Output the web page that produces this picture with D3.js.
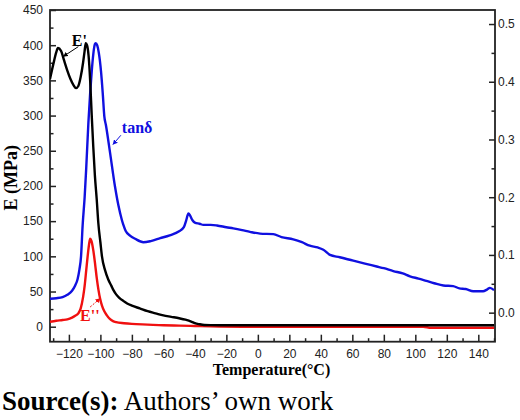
<!DOCTYPE html>
<html>
<head>
<meta charset="utf-8">
<script src="https://cdn.jsdelivr.net/npm/d3@7"></script>
<style>
  body { margin: 0; background: #fff; }
  .tick text { font-family: "Liberation Sans", Arial, sans-serif; font-size: 12px; fill: #222; }
  .tick line { stroke: #222; stroke-width: 1.5; }
  .serif { font-family: "Liberation Serif", "Times New Roman", serif; }
</style>
</head>
<body>
<svg id="chart"></svg>
<script>
// temperature (°C) / value pairs
const ePrimeT = [-132, -130, -128, -127, -125, -123, -121, -119, -117, -115.5, -114, -112.5, -111, -110, -109.3, -108.5, -107.5, -106.5, -105.5, -104.5, -103.5, -102.3, -101.3, -100, -99, -97, -95, -93, -91.7, -90, -88, -85, -83, -80, -75, -70, -65, -60, -55, -50, -46, -42, -40, -37, -34, -30, -20, 0, 50, 100, 150];
const ePrime = [352, 372, 390, 396, 392, 378, 364, 352, 343, 339, 342, 355, 375, 392, 403, 400, 385, 350, 300, 255, 215, 180, 147, 120, 100, 80, 67, 58, 52, 46, 41, 36, 33, 30, 26, 22, 19, 16, 14, 12, 10, 7, 5, 3.5, 2.5, 2.2, 2, 2, 2, 2, 2];

const eDoubleT = [-132, -128, -124, -121, -118, -116, -114, -112.5, -111, -110, -109, -108, -107.2, -106.5, -105.7, -104.4, -103.3, -102.3, -101.2, -100.2, -99, -97.5, -96, -94, -92, -90, -85, -80, -70, -60, -50, -40, -30, -10, 50, 105, 110, 150];
const eDouble = [7, 8.5, 9.5, 10.5, 13, 15.5, 19, 26, 42, 58, 80, 102, 117, 125, 122, 107, 88, 69, 52, 40, 30, 22, 16.5, 11, 8, 6.5, 5, 4, 3, 2, 1.5, 1, 0.5, 0, 0, 0, -1.5, -1.5];

const tanT = [-132, -128, -124, -121, -118, -116, -114.5, -113.3, -112.3, -111.3, -110, -109, -107.6, -106.5, -105.5, -104.5, -103.5, -103, -102, -101, -99.6, -98.5, -97.5, -96.5, -93.8, -90.7, -88.5, -86.4, -85.4, -84, -81, -78, -72.7, -68, -62, -56, -50, -47, -45.5, -44.1, -43, -41.5, -40, -37, -34.6, -30, -26, -20, -15.6, -10, -5, 1.4, 9.8, 15, 22.5, 28, 33, 38, 41.6, 45.8, 52, 60.6, 68, 75.5, 80, 86, 92, 96.6, 102, 107, 112, 117.8, 124, 128, 132, 136.8, 143, 145.5, 147.4, 150];
const tanDelta = [0.024, 0.025, 0.027, 0.031, 0.038, 0.047, 0.058, 0.075, 0.097, 0.15, 0.2, 0.25, 0.33, 0.38, 0.418, 0.448, 0.465, 0.467, 0.463, 0.45, 0.418, 0.38, 0.34, 0.325, 0.276, 0.218, 0.185, 0.161, 0.152, 0.142, 0.133, 0.128, 0.122, 0.124, 0.129, 0.134, 0.141, 0.148, 0.16, 0.172, 0.168, 0.16, 0.156, 0.154, 0.152, 0.152, 0.151, 0.148, 0.146, 0.143, 0.14, 0.137, 0.136, 0.131, 0.127, 0.122, 0.116, 0.113, 0.109, 0.1, 0.096, 0.09, 0.085, 0.08, 0.077, 0.072, 0.068, 0.063, 0.059, 0.055, 0.051, 0.047, 0.046, 0.042, 0.041, 0.037, 0.037, 0.04, 0.043, 0.039];

const xMajor = [-120, -100, -80, -60, -40, -20, 0, 20, 40, 60, 80, 100, 120, 140];
const yLeftMajor = [0, 50, 100, 150, 200, 250, 300, 350, 400, 450];
const yRightMajor = [0, 0.1, 0.2, 0.3, 0.4, 0.5];

const width = 520, height = 420;
const margin = { top: 10, right: 25, bottom: 78.3, left: 50 };
const plotW = width - margin.left - margin.right,
  plotH = height - margin.top - margin.bottom;

const svg = d3.select("#chart").attr("width", width).attr("height", height);

const x = d3.scaleLinear().domain([-132, 150.6]).range([margin.left, margin.left + plotW]);
const yL = d3.scaleLinear().domain([-21.3, 450]).range([margin.top + plotH, margin.top]);
const yR = d3.scaleLinear().domain([-0.0503, 0.5243]).range([margin.top + plotH, margin.top]);

// minor ticks first, then majors with labels
const xMinor = d3.range(-130, 151, 10).filter(v => !xMajor.includes(v));
const yLeftMinor = d3.range(0, 451, 25).filter(v => !yLeftMajor.includes(v));
const yRightMinor = [0.05, 0.15, 0.25, 0.35, 0.45];

function addAxis(axis, tx, ty) {
  const g = svg.append("g").attr("transform", `translate(${tx},${ty})`).call(axis);
  g.select(".domain").remove();
  return g;
}

addAxis(d3.axisBottom(x).tickValues(xMinor).tickSize(-3.5).tickFormat(""), 0, margin.top + plotH);
addAxis(d3.axisBottom(x).tickValues(xMajor).tickSize(-7).tickPadding(7.3)
  .tickFormat(d => d < 0 ? "\u2212" + Math.abs(d) : d), 0, margin.top + plotH);

addAxis(d3.axisLeft(yL).tickValues(yLeftMinor).tickSize(-3.5).tickFormat(""), margin.left, 0);
addAxis(d3.axisLeft(yL).tickValues(yLeftMajor).tickSize(-6).tickPadding(7), margin.left, 0);

addAxis(d3.axisRight(yR).tickValues(yRightMinor).tickSize(-3.5).tickFormat(""), margin.left + plotW, 0);
addAxis(d3.axisRight(yR).tickValues(yRightMajor).tickSize(-6).tickPadding(3)
  .tickFormat(d3.format(".1f")), margin.left + plotW, 0);

// frame
svg.append("rect")
  .attr("x", margin.left).attr("y", margin.top)
  .attr("width", plotW).attr("height", plotH)
  .attr("fill", "none").attr("stroke", "#222").attr("stroke-width", 1.8);

svg.append("clipPath").attr("id", "clip").append("rect")
  .attr("x", margin.left).attr("y", margin.top).attr("width", plotW).attr("height", plotH);

const plot = svg.append("g").attr("clip-path", "url(#clip)");

function drawLine(ts, vs, yScale, color) {
  const line = d3.line().x(d => x(d[0])).y(d => yScale(d[1])).curve(d3.curveMonotoneX);
  plot.append("path")
    .datum(d3.zip(ts, vs))
    .attr("fill", "none")
    .attr("stroke", color)
    .attr("stroke-width", 2.4)
    .attr("stroke-linejoin", "round")
    .attr("d", line);
}

drawLine(tanT, tanDelta, yR, "#1010e0");
drawLine(eDoubleT, eDouble, yL, "#f01010");
drawLine(ePrimeT, ePrime, yL, "#000");

// arrowheads
const defs = svg.append("defs");
[["black", "#000"], ["blue", "#1010e0"], ["red", "#f01010"]].forEach(([id, c]) => {
  defs.append("marker").attr("id", "arr-" + id)
    .attr("viewBox", "0 0 10 10").attr("refX", 9).attr("refY", 5)
    .attr("markerWidth", 5).attr("markerHeight", 5).attr("orient", "auto")
    .append("path").attr("d", "M0,0L10,5L0,10z").attr("fill", c);
});

function note(label, t, v, color, from, to, marker, dash) {
  svg.append("text").attr("class", "serif")
    .attr("x", x(t)).attr("y", yL(v))
    .attr("font-size", 16).attr("font-weight", "bold").attr("fill", color)
    .text(label);
  svg.append("line")
    .attr("x1", x(from[0])).attr("y1", yL(from[1]))
    .attr("x2", x(to[0])).attr("y2", yL(to[1]))
    .attr("stroke", color).attr("stroke-width", 1)
    .attr("stroke-dasharray", dash || null)
    .attr("marker-end", `url(#arr-${marker})`);
}

note("E'", -118.2, 399, "#000", [-114, 398], [-123.5, 384], "black");
note("tan\u03b4", -86.4, 275, "#1010e0", [-87, 272], [-92, 259], "blue");
note("E''", -112.9, 8, "#f01010", [-106.5, 28], [-100.2, 40], "red", "2,1.5");

// axis titles
svg.append("text").attr("class", "serif")
  .attr("transform", `translate(17, ${margin.top + plotH / 2 + 2}) rotate(-90)`)
  .attr("text-anchor", "middle")
  .attr("font-size", 18).attr("font-weight", "bold")
  .text("E (MPa)");

svg.append("text").attr("class", "serif")
  .attr("x", 271.5).attr("y", 375)
  .attr("text-anchor", "middle")
  .attr("font-size", 16).attr("font-weight", "bold")
  .text("Temperature(\u00b0C)");

const src = svg.append("text").attr("class", "serif")
  .attr("x", 2).attr("y", 410).attr("font-size", 27);
src.append("tspan").attr("font-weight", "bold").text("Source(s):");
src.append("tspan").text(" Authors\u2019 own work");
</script>
</body>
</html>
